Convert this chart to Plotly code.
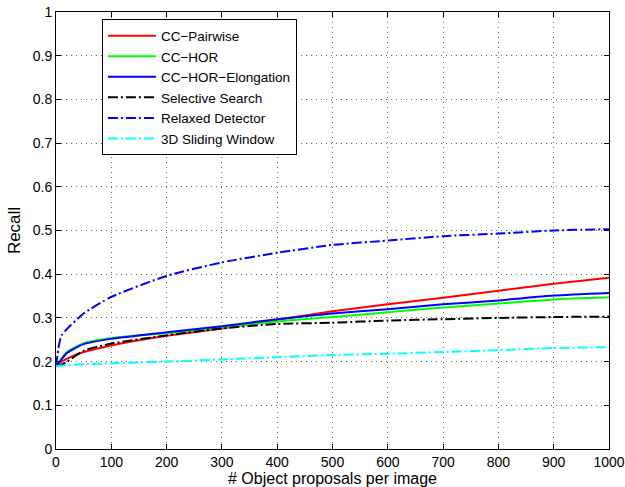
import plotly.graph_objects as go

x_pts = [0, 5, 10, 20, 50, 100, 200, 300, 400, 500, 600, 700, 800, 900, 1000]

cc_pairwise = [0.19, 0.195, 0.2, 0.207, 0.222, 0.237, 0.259, 0.276, 0.296, 0.315, 0.331, 0.346, 0.362, 0.378, 0.392]
cc_hor = [0.19, 0.198, 0.207, 0.222, 0.242, 0.254, 0.265, 0.278, 0.292, 0.302, 0.313, 0.324, 0.333, 0.342, 0.347]
cc_hor_elong = [0.19, 0.197, 0.205, 0.22, 0.24, 0.252, 0.267, 0.281, 0.297, 0.31, 0.32, 0.331, 0.34, 0.351, 0.357]
selective = [0.19, 0.19, 0.193, 0.2, 0.225, 0.241, 0.26, 0.276, 0.286, 0.289, 0.294, 0.297, 0.3, 0.302, 0.303]
relaxed = [0.19, 0.235, 0.26, 0.275, 0.31, 0.348, 0.396, 0.427, 0.449, 0.467, 0.477, 0.487, 0.493, 0.5, 0.503]
sliding = [0.19, 0.19, 0.191, 0.192, 0.194, 0.196, 0.2, 0.205, 0.21, 0.215, 0.218, 0.222, 0.226, 0.231, 0.233]

series = [
    ("CC\u2212Pairwise", cc_pairwise, "#ff0000", "solid"),
    ("CC\u2212HOR", cc_hor, "#00ff00", "solid"),
    ("CC\u2212HOR\u2212Elongation", cc_hor_elong, "#0000ff", "solid"),
    ("Selective Search", selective, "#000000", "10px,3px,2px,3px"),
    ("Relaxed Detector", relaxed, "#0000ff", "10px,3px,2px,3px"),
    ("3D Sliding Window", sliding, "#00ffff", "10px,3px,2px,3px"),
]

fig = go.Figure()
for name, vals, color, dash in series:
    fig.add_trace(go.Scatter(x=x_pts, y=vals, mode="lines", name=name,
                             line=dict(color=color, width=2, dash=dash, shape="spline", smoothing=0.6)))

font = "Liberation Sans, Arial, Helvetica, sans-serif"
axis_common = dict(
    showline=True, linecolor="black", linewidth=1, mirror="ticks",
    ticks="inside", ticklen=5, tickcolor="black",
    showgrid=True, gridcolor="#666666", griddash="1px,4px", gridwidth=1,
    zeroline=False, tickfont=dict(family=font, size=14, color="black"),
    automargin=False, ticklabeloverflow="allow",
)

fig.update_layout(
    width=625, height=487,
    margin=dict(l=56, r=16, t=12, b=38),
    paper_bgcolor="white", plot_bgcolor="white",
    font=dict(family=font, color="black"),
    xaxis=dict(range=[0, 1000], dtick=100, tick0=0,
               title=dict(text="# Object proposals per image", font=dict(size=16), standoff=4),
               **axis_common),
    yaxis=dict(range=[0, 1], dtick=0.1, tick0=0,
               title=dict(text="Recall", font=dict(size=17), standoff=7),
               **axis_common),
    legend=dict(x=0.083, y=0.983, xanchor="left", yanchor="top",
                bgcolor="white", bordercolor="black", borderwidth=1,
                font=dict(family=font, size=13.5), tracegroupgap=0, itemwidth=48),
    showlegend=True,
)

fig.write_html("out.html")
